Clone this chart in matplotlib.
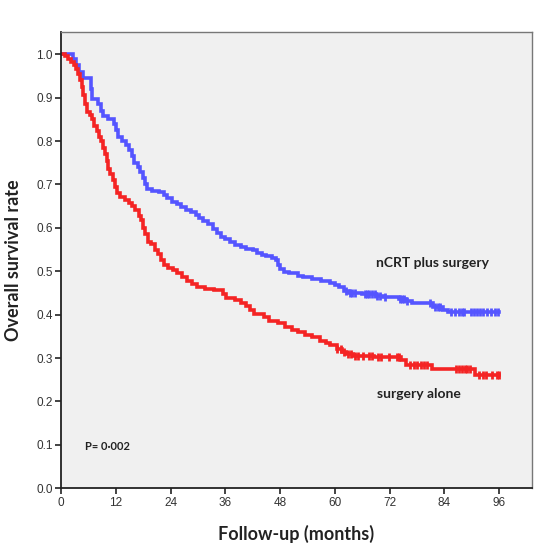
import numpy as np
import matplotlib
matplotlib.use("Agg")
import matplotlib.pyplot as plt

# Kaplan-Meier steps (months, survival)
ncrt_t = [0, 2.7, 3.2, 4.0, 4.8, 6.5, 6.8, 8.0, 8.8, 9.3, 10.2, 11.6, 12.0, 12.4,
          13.3, 14.3, 15.0, 15.6, 16.0, 16.8, 17.3, 18.0, 18.4, 18.8, 20.0, 21.5,
          22.5, 23.3, 24.3, 25.3, 26.3, 27.3, 28.4, 29.5, 30.2, 31.2, 32.3, 33.2,
          34.2, 35.0, 36.0, 37.0, 38.2, 39.5, 40.5, 42.0, 43.0, 44.0, 45.0, 46.2,
          47.0, 47.5, 48.0, 48.8, 50.0, 52.0, 53.0, 55.0, 57.0, 59.0, 60.0, 61.0,
          62.0, 63.0, 66.0, 69.0, 70.5, 74.0, 75.5, 76.8, 81.5, 83.7, 84.8, 96.0]
ncrt_s = [1.0, 0.99, 0.975, 0.96, 0.945, 0.92, 0.898, 0.886, 0.87, 0.858, 0.85, 0.84,
          0.825, 0.81, 0.80, 0.79, 0.78, 0.765, 0.75, 0.74, 0.728, 0.715, 0.70, 0.69,
          0.686, 0.683, 0.675, 0.668, 0.66, 0.655, 0.648, 0.641, 0.636, 0.63, 0.623,
          0.615, 0.608, 0.598, 0.588, 0.58, 0.575, 0.568, 0.56, 0.556, 0.552, 0.548,
          0.542, 0.538, 0.535, 0.53, 0.525, 0.515, 0.505, 0.498, 0.495, 0.49, 0.486,
          0.482, 0.478, 0.474, 0.468, 0.463, 0.455, 0.45, 0.447, 0.443, 0.44, 0.437,
          0.432, 0.426, 0.418, 0.41, 0.405, 0.405]
ncrt_cens = [62.5, 63.3, 63.8, 64.4, 66.5, 67.0, 67.5, 68.2, 68.7, 69.2, 69.8, 71.0,
             74.3, 74.8, 75.2, 75.8, 80.8, 82.0, 82.5, 83.0, 85.5, 86.3, 87.2, 87.8,
             88.3, 89.8, 90.5, 91.2, 91.8, 92.5, 93.3, 94.2, 95.0, 95.8]

surg_t = [0, 0.8, 1.5, 2.2, 2.8, 3.3, 3.8, 4.2, 4.5, 4.9, 5.3, 5.6, 6.3, 6.8, 7.2,
          7.8, 8.3, 8.8, 9.3, 9.7, 10.0, 10.3, 10.8, 11.3, 11.8, 12.2, 13.0, 14.0,
          14.8, 15.5, 16.2, 17.0, 17.5, 18.0, 18.5, 19.0, 19.8, 20.5, 21.3, 21.8,
          22.5, 23.5, 24.5, 25.5, 26.5, 27.5, 28.7, 29.7, 31.5, 33.5, 35.5, 36.2,
          38.2, 39.5, 40.5, 41.5, 42.3, 44.5, 45.5, 47.5, 49.0, 50.5, 52.0, 53.5,
          55.0, 56.8, 58.0, 59.0, 60.5, 61.5, 62.5, 64.0, 68.5, 74.5, 75.5, 81.3,
          90.6, 96.0]
surg_s = [1.0, 0.995, 0.99, 0.982, 0.975, 0.965, 0.955, 0.94, 0.925, 0.905, 0.885,
          0.868, 0.86, 0.85, 0.835, 0.822, 0.81, 0.80, 0.785, 0.77, 0.755, 0.735,
          0.725, 0.71, 0.695, 0.68, 0.672, 0.665, 0.657, 0.65, 0.64, 0.628, 0.618,
          0.60, 0.585, 0.568, 0.562, 0.55, 0.54, 0.525, 0.515, 0.508, 0.503, 0.495,
          0.487, 0.478, 0.47, 0.464, 0.46, 0.456, 0.448, 0.438, 0.434, 0.428, 0.42,
          0.41, 0.402, 0.394, 0.386, 0.38, 0.372, 0.365, 0.36, 0.354, 0.348, 0.34,
          0.335, 0.33, 0.322, 0.315, 0.31, 0.305, 0.302, 0.296, 0.284, 0.275, 0.261,
          0.261]
surg_cens = [60.5, 61.3, 62.0, 62.8, 63.5, 64.3, 65.0, 66.2, 67.5, 68.2, 69.5, 70.0,
             71.8, 73.5, 74.0, 76.5, 77.3, 78.0, 78.8, 79.5, 80.2, 86.5, 87.2, 87.8,
             88.5, 89.0, 89.5, 91.5, 92.5, 93.2, 94.5, 95.5, 96.0]

x_ticks = [0, 12, 24, 36, 48, 60, 72, 84, 96]
y_ticks = [0.0, 0.1, 0.2, 0.3, 0.4, 0.5, 0.6, 0.7, 0.8, 0.9, 1.0]

BLUE = "#5555ff"
RED = "#f42424"


def step_value(ts, ss, x):
    # survival value at time x for a post-step curve
    i = np.searchsorted(ts, x, side="right") - 1
    return np.asarray(ss)[i]


fig = plt.figure(figsize=(5.4, 5.46), dpi=100)
ax = fig.add_axes([0.113, 0.1057, 0.8716, 0.8363])
ax.set_facecolor("#f0f0f0")

for ts, ss, cens, col in [(ncrt_t, ncrt_s, ncrt_cens, BLUE),
                          (surg_t, surg_s, surg_cens, RED)]:
    ax.step(ts, ss, where="post", color=col, lw=2.6, solid_joinstyle="miter")
    ax.plot(cens, step_value(ts, ss, cens), ls="none", marker="|",
            ms=6, mew=2.0, color=col)

ax.set_xlim(0, 103.1)
ax.set_ylim(0, 1.052)
ax.set_xticks(x_ticks)
ax.set_yticks(y_ticks)
ax.set_yticklabels([f"{v:.1f}" for v in y_ticks])
ax.tick_params(direction="out", length=4, width=1.2, colors="#222222",
               labelsize=8.5, pad=2)
for lab in ax.get_xticklabels() + ax.get_yticklabels():
    lab.set_family("Liberation Sans")
    lab.set_color("#333333")

for side in ["left", "bottom"]:
    ax.spines[side].set_color("#222222")
    ax.spines[side].set_linewidth(1.3)
for side in ["right", "top"]:
    ax.spines[side].set_color("#777777")
    ax.spines[side].set_linewidth(1.0)

lbl = dict(family="Lato", weight="bold", color="#222222")
ax.text(69.0, 0.519, "nCRT plus surgery", fontsize=10, va="center", **lbl)
ax.text(69.3, 0.217, "surgery alone", fontsize=10, va="center", **lbl)
ax.text(5.3, 0.097, "P= 0·002", fontsize=8, va="center", **lbl)

ax.set_xlabel("Follow-up (months)", fontsize=13, labelpad=12, **lbl)
ax.set_ylabel("Overall survival rate", fontsize=13, labelpad=10, **lbl)

fig.savefig("out.png", dpi=100, facecolor="white")
